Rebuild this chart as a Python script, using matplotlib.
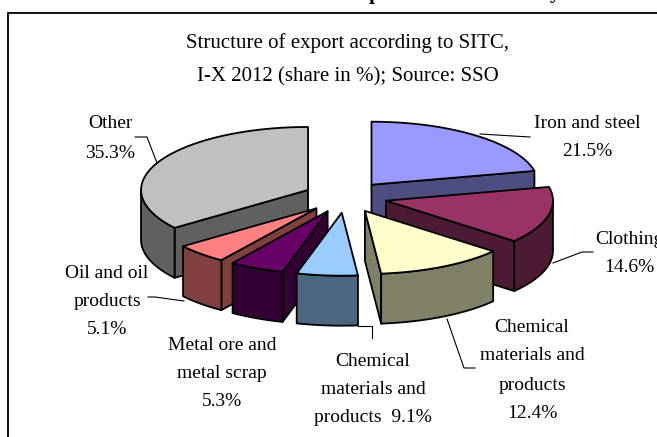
import numpy as np
import matplotlib
matplotlib.use('Agg')
import matplotlib.pyplot as plt

plt.rcParams['font.family'] = ['Liberation Serif', 'DejaVu Serif']

# share each slice is drawn with (the 4th one is drawn smaller than its label says)
shares = [21.5, 14.6, 12.4, 5.9, 5.3, 5.1, 35.3]
top_colors = ['#9999FF', '#993366', '#FFFFCC', '#99CCFF', '#660066', '#FF8080', '#C0C0C0']
side_colors = ['#4D4D80', '#4D1A33', '#808066', '#4D6680', '#330033', '#804040', '#606060']
draw_order = [6, 0, 1, 2, 5, 4, 3]

title_lines = ['Structure of export according to SITC,', 'I-X 2012 (share in %); Source: SSO']
label_texts = [
    ['Iron and steel', '21.5%'],
    ['Clothing', '14.6%'],
    ['Chemical', 'materials and', 'products', '12.4%'],
    ['Chemical', 'materials and', 'products  9.1%'],
    ['Metal ore and', 'metal scrap', '5.3%'],
    ['Oil and oil', 'products', '5.1%'],
    ['Other', '35.3%'],
]
label_x = [587, 629, 532, 373, 222, 107, 110]
label_y = [[124, 152], [239, 267], [328, 356, 385, 413], [361, 389, 418],
           [345, 373, 401], [273, 301, 330], [124, 153]]
leader_x = [[480, 530], [553, 582, 593], [447, 464, 475], [358, 372, 372], [],
            [184, 155, 148], [157, 147, 135]]
leader_y = [[134, 137], [263, 252, 252], [319, 368, 368], [326, 326, 338], [],
            [301, 297, 297], [163, 137, 137]]

cx, cy = 345.4, 197.0
rx, ry = 167.0, 63.0
depth = 50.0
explode = 0.25

fig = plt.figure(figsize=(6.57, 4.37), dpi=100)
ax = fig.add_axes([0, 0, 1, 1])
ax.set_xlim(0, 657)
ax.set_ylim(437, 0)
ax.axis('off')

# frame, runs off the right and bottom of the crop
ax.plot([8, 8, 657], [437, 13, 13], color='black', lw=1.3, solid_joinstyle='miter')

# bits of the line above the chart, only descenders are left
ax.text(375, -1.5, 'p', fontsize=15, fontweight='bold', ha='center', va='baseline', clip_on=True)
ax.text(555, -2, 'y', fontsize=15, fontweight='bold', ha='center', va='baseline', clip_on=True)


def point(ox, oy, deg):
    t = np.radians(deg)
    return ox + rx * np.sin(t), oy - ry * np.cos(t)


def side(xs, ys, color):
    xs = list(xs)
    ys = list(ys)
    ax.fill(xs + xs[::-1], ys + [y + depth for y in ys[::-1]],
            facecolor=color, edgecolor='black', lw=1.3, joinstyle='round')


edges = np.cumsum([0] + shares) / sum(shares) * 360
for i in draw_order:
    a0, a1 = edges[i], edges[i + 1]
    mid = (a0 + a1) / 2
    ox = cx + explode * rx * np.sin(np.radians(mid))
    oy = cy - explode * ry * np.cos(np.radians(mid))

    # radial walls, only those that face the viewer
    if -np.cos(np.radians(a0 - 90)) > 0:
        x, y = point(ox, oy, a0)
        side([ox, x], [oy, y], side_colors[i])
    if -np.cos(np.radians(a1 + 90)) > 0:
        x, y = point(ox, oy, a1)
        side([ox, x], [oy, y], side_colors[i])

    # curved wall, front half of the ellipse only
    lo, hi = max(a0, 90), min(a1, 270)
    if lo < hi:
        x, y = point(ox, oy, np.linspace(lo, hi, 40))
        side(x, y, side_colors[i])

    x, y = point(ox, oy, np.linspace(a0, a1, 60))
    ax.fill(np.r_[ox, x], np.r_[oy, y], facecolor=top_colors[i], edgecolor='black',
            lw=1.3, joinstyle='round')

for xs, ys in zip(leader_x, leader_y):
    if xs:
        ax.plot(xs, ys, color='black', lw=0.8)

for line, y in zip(title_lines, [43, 77]):
    ax.text(348, y, line, fontsize=15, ha='center', va='center')

for lines, x, ys in zip(label_texts, label_x, label_y):
    for line, y in zip(lines, ys):
        ax.text(x, y, line, fontsize=14, ha='center', va='center', clip_on=True)

fig.savefig('out.png', dpi=100)
